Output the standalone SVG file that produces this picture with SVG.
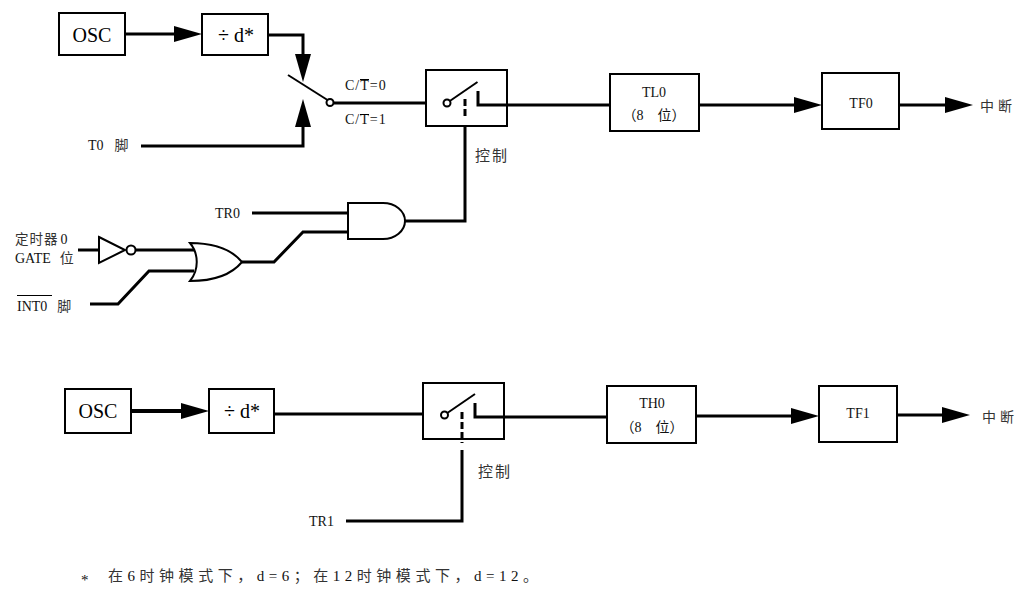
<svg xmlns="http://www.w3.org/2000/svg" width="1031" height="602" viewBox="0 0 1031 602">
<style>
.box{fill:#fff;stroke:#000;stroke-width:2}
.gate{fill:#fff;stroke:#000;stroke-width:2}
.w{fill:none;stroke:#000;stroke-width:3;stroke-linejoin:miter}
.thin{fill:none;stroke:#000;stroke-width:2}
.dash{fill:none;stroke:#000;stroke-width:3;stroke-dasharray:7 3}
.ring{fill:#fff;stroke:#000;stroke-width:2}
.big{font-family:"Liberation Serif","Noto Sans CJK SC",serif;font-size:20px;fill:#000}
.lab{font-family:"Liberation Serif","Noto Sans CJK SC",serif;font-size:14px;fill:#111}
.cjk{font-family:"Noto Sans CJK SC",sans-serif;font-size:14px;fill:#333}
.mid{text-anchor:middle}
</style>
<defs>
<marker id="arr" markerUnits="userSpaceOnUse" markerWidth="28" markerHeight="16" viewBox="0 0 28 16" refX="1" refY="8" orient="auto">
<path d="M0,0 L28,8 L0,16 Z" fill="#000"/>
</marker>
</defs>
<rect width="1031" height="602" fill="#fff"/>

<g id="connectors">
<path class="w" d="M125,34 H175" marker-end="url(#arr)"/>
<path class="w" d="M268,35 H303 V55" marker-end="url(#arr)"/>
<path class="w" d="M141,146 H303 V126" marker-end="url(#arr)"/>
<path class="w" d="M333.5,103 H443.5"/>
<path class="w" d="M506,105 H610"/>
<path class="w" d="M699,105 H795" marker-end="url(#arr)"/>
<path class="w" d="M899,105 H946" marker-end="url(#arr)"/>
<path class="w" d="M252,213 H348"/>
<path class="w" d="M242,262 H274 L303,232 H348"/>
<path class="w" d="M405,221 H465 V122"/>
<path class="w" d="M78,250 H99"/>
<path class="w" d="M135.5,250 H196"/>
<path class="w" d="M90,304 H118 L149,271 H194"/>
<path class="w" style="stroke-width:4" d="M131,411 H182" marker-end="url(#arr)"/>
<path class="w" d="M274,414 H441"/>
<path class="w" d="M503,417 H607"/>
<path class="w" d="M696,416 H792" marker-end="url(#arr)"/>
<path class="w" d="M897,415 H943" marker-end="url(#arr)"/>
<path class="w" d="M346,521 H462 V450"/>
</g>

<g id="osc0">
<rect class="box" x="59" y="13" width="66" height="42"/>
<text class="big mid" x="92" y="42">OSC</text>
</g>
<g id="div0">
<rect class="box" x="202" y="14" width="66" height="41"/>
<text class="big mid" x="236" y="42">÷ d*</text>
</g>
<g id="t0pin">
<text class="lab" x="88" y="150">T0<tspan class="cjk" dx="11">脚</tspan></text>
</g>
<g id="ctswitch">
<line class="thin" x1="288" y1="75" x2="327.5" y2="100"/>
<circle class="ring" cx="330" cy="102.5" r="3.5"/>
<text class="lab" x="345" y="90" letter-spacing="1">C/T=0</text>
<line class="thin" style="stroke-width:1" x1="360" y1="79.5" x2="369" y2="79.5"/>
<text class="lab" x="345" y="124" letter-spacing="1">C/T=1</text>
<line class="thin" style="stroke-width:1" x1="360" y1="114.5" x2="369" y2="114.5"/>
</g>
<g id="gate0">
<rect class="box" x="426" y="70" width="81" height="56"/>
<circle class="ring" cx="447" cy="103" r="3.5"/>
<line class="thin" x1="449.8" y1="101" x2="477.5" y2="82"/>
<path class="w" d="M478,91 V105 H507"/>
<path class="dash" d="M465,99 V117"/>
<text class="cjk" x="475" y="161" letter-spacing="2" style="font-size:15px">控制</text>
</g>
<g id="tl0">
<rect class="box" x="610" y="74" width="89" height="57"/>
<text class="lab mid" x="654" y="97">TL0</text>
<text class="lab mid" x="654" y="120">（8　位）</text>
</g>
<g id="tf0">
<rect class="box" x="822" y="73" width="77" height="56"/>
<text class="lab mid" x="861" y="108">TF0</text>
</g>
<g id="int0out">
<text class="cjk" x="980" y="111" letter-spacing="4">中断</text>
</g>
<g id="tr0">
<text class="lab" x="215" y="218">TR0</text>
</g>
<g id="and0">
<path class="gate" d="M348,203 H383 A22,18 0 0 1 383,239 H348 Z"/>
</g>
<g id="gatebit">
<text class="cjk" x="15" y="244" letter-spacing="1" style="font-size:13.5px">定时器<tspan class="lab" dx="2">0</tspan></text>
<text class="lab" x="15" y="263">GATE<tspan class="cjk" dx="9">位</tspan></text>
</g>
<g id="not0">
<path class="gate" d="M99,237 L125,250 L99,263 Z"/>
<circle class="ring" cx="131" cy="250" r="4.5"/>
</g>
<g id="or0">
<path class="gate" d="M190,243 C215,243 232,250 242,262 C232,274 215,281 190,281 C199,270 199,254 190,243 Z"/>
</g>
<g id="int0pin">
<text class="lab" x="17" y="311">INT0<tspan class="cjk" dx="10">脚</tspan></text>
<line class="thin" style="stroke-width:1" x1="17" y1="295.5" x2="52" y2="295.5"/>
</g>

<g id="osc1">
<rect class="box" x="65" y="389" width="66" height="44"/>
<text class="big mid" x="98" y="418">OSC</text>
</g>
<g id="div1">
<rect class="box" x="209" y="389" width="65" height="44"/>
<text class="big mid" x="242" y="418">÷ d*</text>
</g>
<g id="gate1">
<rect class="box" x="423" y="383" width="81" height="56"/>
<circle class="ring" cx="444.5" cy="415" r="3.5"/>
<line class="thin" x1="447.3" y1="413" x2="475" y2="394"/>
<path class="w" d="M475,403 V417 H504"/>
<path class="dash" d="M462,412 V443"/>
<text class="cjk" x="478" y="477" letter-spacing="2" style="font-size:15px">控制</text>
</g>
<g id="tr1">
<text class="lab" x="309" y="526">TR1</text>
</g>
<g id="th0">
<rect class="box" x="607" y="386" width="89" height="57"/>
<text class="lab mid" x="652" y="408">TH0</text>
<text class="lab mid" x="652" y="432">（8　位）</text>
</g>
<g id="tf1">
<rect class="box" x="819" y="386" width="78" height="56"/>
<text class="lab mid" x="858" y="418">TF1</text>
</g>
<g id="int1out">
<text class="cjk" x="982" y="422" letter-spacing="4">中断</text>
</g>

<g id="footnote">
<text class="lab" x="81" y="585" style="font-size:15px">*</text>
<text class="cjk" x="108" y="581" style="font-size:15px" textLength="430" lengthAdjust="spacing">在<tspan class="lab" style="font-size:15px">6</tspan>时钟模式下，<tspan class="lab" style="font-size:15px">d=6</tspan>；在<tspan class="lab" style="font-size:15px">12</tspan>时钟模式下，<tspan class="lab" style="font-size:15px">d=12</tspan>。</text>
</g>
</svg>
